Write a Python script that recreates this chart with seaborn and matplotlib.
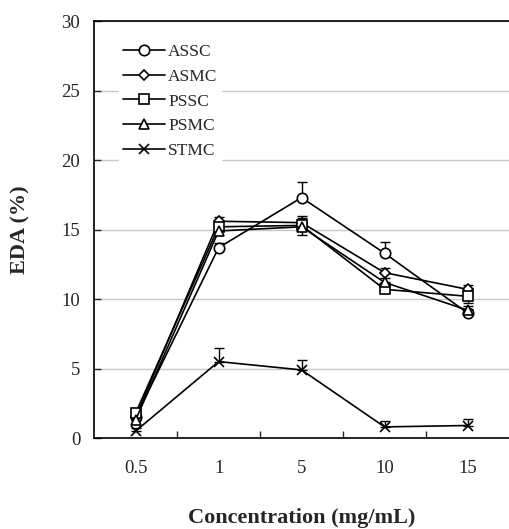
import numpy as np
import pandas as pd
import seaborn as sns
import matplotlib.pyplot as plt
from matplotlib.ticker import FixedLocator

sns.set_style('white')
plt.rcParams['font.family'] = ['Liberation Serif', 'DejaVu Serif']

concentrations = ['0.5', '1', '5', '10', '15']
samples = ['ASSC', 'ASMC', 'PSSC', 'PSMC', 'STMC']

assc = [1.5, 13.7, 17.3, 13.3, 9.0]
asmc = [1.5, 15.6, 15.5, 11.9, 10.7]
pssc = [1.8, 15.2, 15.3, 10.7, 10.2]
psmc = [1.3, 14.9, 15.2, 11.2, 9.2]
stmc = [0.5, 5.5, 4.9, 0.8, 0.9]

# upper / lower error bar lengths
assc_up = [0.2, 0.3, 1.1, 0.8, 0.3]
asmc_up = [0.2, 0.3, 0.3, 0.3, 0.3]
pssc_up = [0.2, 0.4, 0.7, 0.3, 0.5]
psmc_up = [0.2, 0.3, 0.4, 0.3, 0.3]
stmc_up = [0.2, 1.0, 0.7, 0.4, 0.5]
pssc_low = [0, 0, 0.7, 0, 0.5]

values = [assc, asmc, pssc, psmc, stmc]
uppers = [assc_up, asmc_up, pssc_up, psmc_up, stmc_up]
lowers = [[0] * 5, [0] * 5, pssc_low, [0] * 5, [0] * 5]
markers = {'ASSC': 'o', 'ASMC': 'D', 'PSSC': 's', 'PSMC': '^', 'STMC': 'x'}
msizes = {'ASSC': 7.5, 'ASMC': 5.5, 'PSSC': 7, 'PSMC': 6.5, 'STMC': 7.5}

rows = []
for name, vals, ups, lows in zip(samples, values, uppers, lowers):
    for i, c in enumerate(concentrations):
        rows.append({'Sample': name, 'Conc': c, 'pos': i, 'EDA': vals[i],
                     'up': ups[i], 'low': lows[i]})
df = pd.DataFrame(rows)

fig = plt.figure(figsize=(5.09, 5.29), dpi=100)
ax = fig.add_axes([0.185, 0.172, 0.815, 0.788])

for name in samples:
    d = df[df['Sample'] == name]
    ax.errorbar(d['pos'], d['EDA'], yerr=[d['low'], d['up']], fmt='none',
                ecolor='black', elinewidth=1.0, capsize=3.5, capthick=1.0,
                zorder=2)
    sns.lineplot(data=d, x='pos', y='EDA', ax=ax, color='black',
                 linewidth=1.2, marker=markers[name],
                 markersize=msizes[name],
                 markerfacecolor='white', markeredgecolor='black',
                 markeredgewidth=1.2, label=name, zorder=3)

ax.set_xlim(-0.5, 4.5)
ax.set_ylim(0, 30)
ax.set_yticks(np.arange(0, 31, 5))
ax.yaxis.grid(True, color='#c8c8c8', linewidth=1.0)
ax.set_axisbelow(True)
ax.set_xticks(range(len(concentrations)))
ax.set_xticklabels(concentrations)
ax.xaxis.set_minor_locator(FixedLocator([0.5, 1.5, 2.5, 3.5]))
ax.tick_params(axis='x', which='major', length=0, pad=16, labelsize=13.5)
ax.tick_params(axis='x', which='minor', direction='in', length=5,
               width=1, bottom=True)
ax.tick_params(axis='y', direction='in', length=5, width=1, left=True,
               labelsize=13.5, pad=10)

for s in ['left', 'bottom', 'top']:
    ax.spines[s].set_color('black')
    ax.spines[s].set_linewidth(1.2)
ax.spines['right'].set_visible(False)

ax.set_xlabel('Concentration (mg/mL)', fontsize=16, fontweight='bold',
              labelpad=22)
ax.set_ylabel('EDA (%)', fontsize=16, fontweight='bold', labelpad=22)

leg = ax.legend(loc='upper left', bbox_to_anchor=(0.04, 0.975),
                frameon=True, fancybox=False, edgecolor='white',
                framealpha=1, fontsize=12.5, handlelength=2.4,
                labelspacing=0.5, borderpad=0.2, handletextpad=0.2)

fig.savefig('out.png', dpi=100)
